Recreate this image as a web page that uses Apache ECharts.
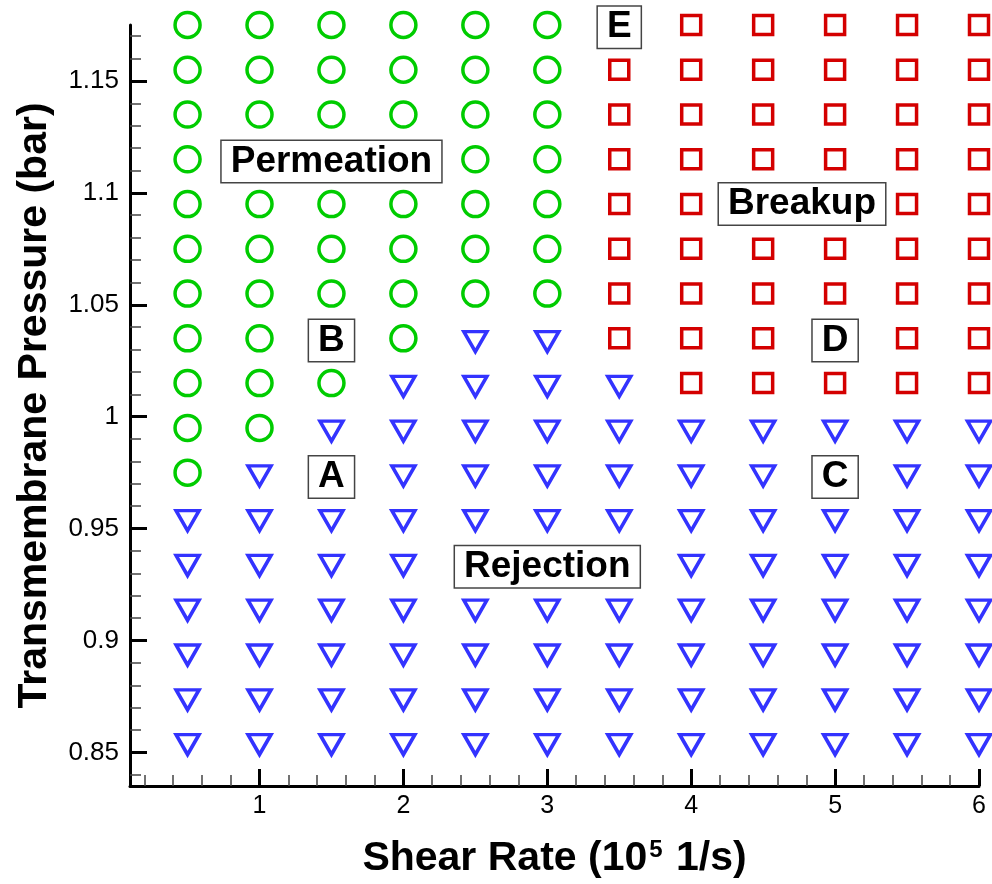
<!DOCTYPE html>
<html><head><meta charset="utf-8">
<script src="https://cdn.jsdelivr.net/npm/echarts@6/dist/echarts.min.js"></script>
<style>html,body{margin:0;padding:0;background:#fff}#c{width:992px;height:884px}</style>
</head><body><div id="c"></div>
<script>
// Shear rate columns (10^5 1/s)
const shearRates = [0.5, 1, 1.5, 2, 2.5, 3, 3.5, 4, 4.5, 5, 5.5, 6];
// Transmembrane pressure rows (bar), top to bottom
const pressures = [1.175, 1.155, 1.135, 1.115, 1.095, 1.075, 1.055, 1.035, 1.015, 0.995,
                   0.975, 0.955, 0.935, 0.915, 0.895, 0.875, 0.855];
// Regime per row (P = permeation, R = rejection, B = breakup), one char per shear-rate column
const regimeRows = [
  'PPPPPPBBBBBB',
  'PPPPPPBBBBBB',
  'PPPPPPBBBBBB',
  'PPPPPPBBBBBB',
  'PPPPPPBBBBBB',
  'PPPPPPBBBBBB',
  'PPPPPPBBBBBB',
  'PPPPRRBBBBBB',
  'PPPRRRRBBBBB',
  'PPRRRRRRRRRR',
  'PRRRRRRRRRRR',
  'RRRRRRRRRRRR',
  'RRRRRRRRRRRR',
  'RRRRRRRRRRRR',
  'RRRRRRRRRRRR',
  'RRRRRRRRRRRR',
  'RRRRRRRRRRRR'
];
// Annotation boxes: positions and texts
const annotationX = [1.5, 4.77, 3.0, 3.5, 1.5, 5.0, 1.5, 5.0];
const annotationY = [1.114, 1.095, 0.933, 1.174, 1.034, 1.034, 0.973, 0.973];
const annotationText = ['Permeation', 'Breakup', 'Rejection', 'E', 'B', 'D', 'A', 'C'];

const xMajorTicks = [1, 2, 3, 4, 5, 6];
const xMinorTicks = [0.2, 0.4, 0.6, 0.8, 1.2, 1.4, 1.6, 1.8, 2.2, 2.4, 2.6, 2.8,
                     3.2, 3.4, 3.6, 3.8, 4.2, 4.4, 4.6, 4.8, 5.2, 5.4, 5.6, 5.8];
const yMajorTicks = [0.85, 0.9, 0.95, 1, 1.05, 1.1, 1.15];
const yMinorTicks = [0.84, 0.86, 0.87, 0.88, 0.89, 0.91, 0.92, 0.93, 0.94, 0.96, 0.97, 0.98, 0.99,
                     1.01, 1.02, 1.03, 1.04, 1.06, 1.07, 1.08, 1.09, 1.11, 1.12, 1.13, 1.14, 1.16, 1.17];

const perm = [], rej = [], brk = [];
regimeRows.forEach(function (row, i) {
  for (let j = 0; j < row.length; j++) {
    const p = [shearRates[j], pressures[i]];
    if (row[j] === 'P') perm.push(p);
    else if (row[j] === 'R') rej.push(p);
    else brk.push(p);
  }
});
const annotations = annotationText.map(function (t, i) {
  return {name: t, value: [annotationX[i], annotationY[i]]};
});

const FONT = "'Liberation Sans', Arial, Helvetica, sans-serif";
const chart = echarts.init(document.getElementById('c'), null, {renderer: 'canvas'});

function majorAxis(extra) {
  return Object.assign({
    type: 'value',
    axisLine: {show: true, onZero: false, lineStyle: {color: '#000', width: 3}},
    splitLine: {show: false},
    nameTextStyle: {fontFamily: FONT, fontSize: 41, fontWeight: 'bold', color: '#000'},
  }, extra);
}
function minorAxis(extra) {
  return Object.assign({
    type: 'value',
    axisLine: {show: false},
    axisLabel: {show: false},
    splitLine: {show: false},
  }, extra);
}

chart.setOption({
  animation: false,
  backgroundColor: '#fff',
  grid: {left: 130, top: 25, right: 13, bottom: 97, containLabel: false},
  xAxis: [
    majorAxis({
      min: 0.1, max: 6, position: 'bottom',
      axisTick: {show: true, inside: true, length: 17, customValues: xMajorTicks, lineStyle: {color: '#000', width: 3}},
      axisLabel: {customValues: xMajorTicks, fontFamily: FONT, fontSize: 25, color: '#000', margin: 8},
      name: 'Shear Rate (10{sup|5} 1/s)',
      nameLocation: 'middle', nameGap: 52,
      nameTextStyle: {fontFamily: FONT, fontSize: 41, fontWeight: 'bold', color: '#000',
        rich: {sup: {fontFamily: FONT, fontSize: 24, fontWeight: 'bold', color: '#000', verticalAlign: 'top', padding: [0, 2, 14, 2]}}}
    }),
    minorAxis({
      min: 0.1, max: 6, position: 'bottom',
      axisTick: {show: true, inside: true, length: 11, customValues: xMinorTicks, lineStyle: {color: '#444', width: 1.5}}
    })
  ],
  yAxis: [
    majorAxis({
      min: 0.835, max: 1.175, position: 'left',
      axisTick: {show: true, inside: true, length: 17, customValues: yMajorTicks, lineStyle: {color: '#000', width: 3}},
      axisLabel: {customValues: yMajorTicks, fontFamily: FONT, fontSize: 26, color: '#000', margin: 11},
      name: 'Transmembrane Pressure (bar)',
      nameLocation: 'middle', nameGap: 75
    }),
    minorAxis({
      min: 0.835, max: 1.175, position: 'left',
      axisTick: {show: true, inside: true, length: 11, customValues: yMinorTicks, lineStyle: {color: '#444', width: 1.5}}
    })
  ],
  series: [
    {type: 'scatter', name: 'Permeation', data: perm, clip: false, symbol: 'circle', symbolSize: 25,
     itemStyle: {color: 'rgba(0,0,0,0)', borderColor: '#00cc00', borderWidth: 3.5, opacity: 1}},
    {type: 'scatter', name: 'Rejection', data: rej, clip: false,
     symbol: 'path://M0,0 L100,0 L50,86.6 Z', symbolSize: [23, 20], symbolOffset: [0, 3.3],
     itemStyle: {color: 'rgba(0,0,0,0)', borderColor: '#3333ff', borderWidth: 3.5, opacity: 1}},
    {type: 'scatter', name: 'Breakup', data: brk, clip: false, symbol: 'rect', symbolSize: 19,
     itemStyle: {color: 'rgba(0,0,0,0)', borderColor: '#d40000', borderWidth: 3.5, opacity: 1}},
    {type: 'scatter', name: 'labels', data: annotations, clip: false, z: 10, symbolSize: 2,
     itemStyle: {color: 'rgba(255,255,255,0)', opacity: 1},
     label: {show: true, position: 'inside', formatter: '{b}',
       fontFamily: FONT, fontSize: 37, fontWeight: 'bold', color: '#000', lineHeight: 37,
       backgroundColor: '#fff', borderColor: '#444', borderWidth: 1.5, padding: [2, 9, 2, 9]},
     labelLayout: {hideOverlap: false},
     emphasis: {disabled: true}}
  ]
});
</script></body></html>
